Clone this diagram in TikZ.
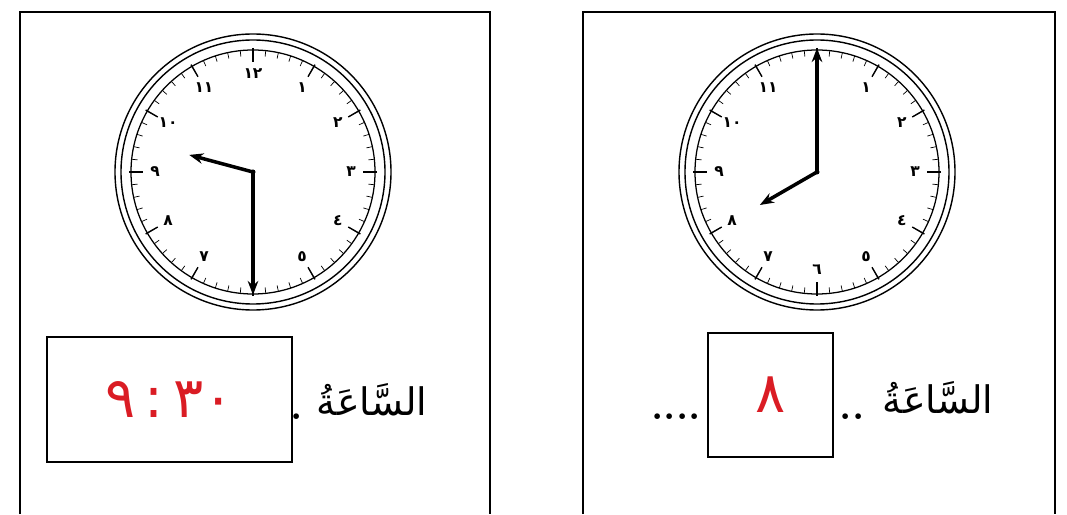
\documentclass[tikz,border=0pt]{standalone}
\usepackage{fontspec}
\usepackage{tikz}
\usetikzlibrary{calc, positioning, arrows.meta}
\newfontfamily\arabicfont[Script=Arabic]{DejaVu Sans}
\TeXXeTstate=1
\definecolor{answerred}{RGB}{218,28,36}

\begin{document}
\begin{tikzpicture}[>={Stealth[length=10pt,width=7.5pt]}, x=0.025cm, y=0.025cm,
    dialnum/.style={font=\arabicfont\bfseries\fontsize{11}{13}\selectfont, inner sep=0pt},
    hand/.style={->, line width=2.5pt},
    ansbox/.style={draw, line width=0.9pt, text=answerred, font=\arabicfont\fontsize{40}{44}\selectfont},
    word/.style={font=\arabicfont\fontsize{27}{32}\selectfont, inner sep=0pt},
    dots/.style={anchor=base, inner sep=0pt, font=\bfseries\fontsize{28}{32}\selectfont}]
  \useasboundingbox (0,0) rectangle (1067,514);
  % the two panels, open at the bottom
  \draw[line width=0.9pt] (20,0) |- (490,502) -- (490,0);
  \draw[line width=0.9pt] (583,0) |- (1055,502) -- (1055,0);
  % clock faces
  \foreach \cx/\nm in {253/L, 817/R} {
    \coordinate (\nm) at (\cx,342);
    \draw[line width=1pt] (\nm) circle[radius=138];
    \draw[line width=1pt] (\nm) circle[radius=132];
    \draw[line width=0.9pt] (\nm) circle[radius=122];
    \foreach \m in {0,...,59}
      \draw[line width=0.5pt] ($(\nm)+(\m*6:122)$) -- ($(\nm)+(\m*6:116)$);
    \foreach \h in {0,...,11}
      \draw[line width=1pt] ($(\nm)+(\h*30:124)$) -- ($(\nm)+(\h*30:110)$);
  }
  % dial numbers (the ones under a hand are hidden)
  \foreach \h/\d in {1/١,2/٢,3/٣,4/٤,5/٥,7/٧,8/٨,9/٩,10/١٠,11/١١,12/١٢}
    \node[dialnum] (nL\h) at ($(L)+({90-30*\h}:98)$) {\d};
  \foreach \h/\d in {1/١,2/٢,3/٣,4/٤,5/٥,6/٦,7/٧,8/٨,9/٩,10/١٠,11/١١}
    \node[dialnum] (nR\h) at ($(R)+({90-30*\h}:98)$) {\d};
  % left clock: half past nine
  \coordinate (Lh) at ($(L)+(165:66)$);
  \coordinate (Lm) at ($(L)+(270:123)$);
  \draw[hand] (L) -- (Lh);
  \draw[hand] (L) -- (Lm);
  \fill (L) circle[radius=2.5];
  % right clock: eight o'clock
  \coordinate (Rh) at ($(R)+(210:66)$);
  \coordinate (Rm) at ($(R)+(90:124)$);
  \draw[hand] (R) -- (Rh);
  \draw[hand] (R) -- (Rm);
  \fill (R) circle[radius=2.5];
  % answers
  \node[ansbox, minimum width=6.125cm, minimum height=3.125cm] (boxL) at (169.5,114.5) {\beginR\beginL ٩\,:\,٣٠\endL\endR};
  \node[word] (wordL) at (372,114) {\beginR السَّاعَةُ\endR};
  \node[dots] (dotL) at (297,94) {.};
  \node[ansbox, minimum width=3.125cm, minimum height=3.1cm] (boxR) at (770.5,119) {٨};
  \node[word] (wordR) at (938,116) {\beginR السَّاعَةُ\endR};
  \node[dots] (dotsR) at (852,94) {..};
  \node[dots] (dotsRL) at (676,94) {....};
\end{tikzpicture}
\end{document}
